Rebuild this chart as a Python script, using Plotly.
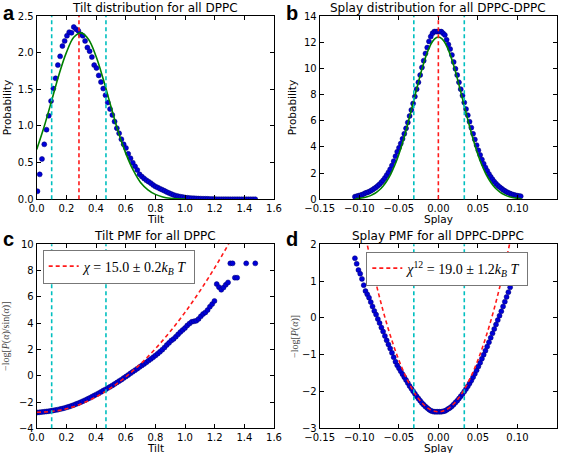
import numpy as np
import plotly.graph_objects as go

# ---------------- data ----------------
# tilt histogram bin centres (rad) and values
tilt_bins = np.round(0.005 + 0.0153 * np.arange(97), 4)
tilt_prob = [0.11, 0.34, 0.55, 0.75, 0.95, 1.14, 1.34, 1.51, 1.65, 1.83,
             1.95, 2.09, 2.16, 2.23, 2.28, 2.27, 2.35, 2.32, 2.30, 2.25,
             2.23, 2.16, 2.07, 2.02, 1.94, 1.83, 1.79, 1.69, 1.60, 1.51,
             1.42, 1.32, 1.23, 1.15, 1.06, 0.97, 0.90, 0.82, 0.75, 0.70,
             0.62, 0.56, 0.50, 0.45, 0.40, 0.34, 0.31, 0.285, 0.26, 0.24,
             0.22, 0.195, 0.175, 0.16, 0.145, 0.13, 0.115, 0.10, 0.085, 0.072,
             0.06, 0.05, 0.042, 0.035, 0.03, 0.025, 0.021, 0.018, 0.016, 0.014,
             0.012, 0.010, 0.009, 0.008, 0.007, 0.006, 0.005, 0.004, 0.003, 0.001,
             0.001, 0.001, 0.001, 0.001, 0.001, 0.0002, 0.0002, 0.0006, 0.0006, 0,
             0, 0, 0.0002, 0, 0, 0, 0.0002]
tilt_pmf = [-2.80, -2.78, -2.76, -2.74, -2.72, -2.70, -2.67, -2.64, -2.61, -2.58,
            -2.54, -2.50, -2.45, -2.40, -2.35, -2.29, -2.23, -2.16, -2.09, -2.02,
            -1.94, -1.86, -1.78, -1.69, -1.60, -1.51, -1.42, -1.33, -1.23, -1.13,
            -1.04, -0.94, -0.84, -0.74, -0.63, -0.52, -0.41, -0.30, -0.18, -0.06,
            0.06, 0.18, 0.30, 0.42, 0.54, 0.66, 0.78, 0.90, 1.02, 1.15,
            1.28, 1.41, 1.54, 1.68, 1.82, 1.98, 2.15, 2.34, 2.50, 2.68,
            2.80, 2.97, 3.15, 3.33, 3.48, 3.63, 3.82, 3.97, 4.10, 4.14,
            4.18, 4.32, 4.52, 4.70, 4.82, 5.00, 5.25, 5.45, 5.69, 6.97,
            6.74, 6.54, 6.71, 6.92, 7.10, 8.55, 8.55, 7.46, 7.46, None,
            None, None, 8.55, None, None, None, 8.55]

# gaussian fit to tilt distribution (sampled)
tilt_fit_x = [0.00, 0.05, 0.10, 0.15, 0.20, 0.25, 0.30, 0.35, 0.40, 0.45, 0.50,
              0.55, 0.60, 0.65, 0.70, 0.75, 0.80, 0.85, 0.90, 0.95, 1.00]
tilt_fit_prob = [0.68, 0.99, 1.34, 1.70, 2.00, 2.21, 2.27, 2.18, 1.95, 1.63, 1.27,
                 0.92, 0.63, 0.40, 0.23, 0.13, 0.067, 0.032, 0.014, 0.006, 0.002]
# harmonic fit to tilt PMF (sampled)
tilt_pmf_fit_x = [0.0, 0.1, 0.2, 0.3, 0.4, 0.5, 0.6, 0.7, 0.8, 0.9, 1.0, 1.1, 1.2, 1.3]
tilt_pmf_fit = [-2.78, -2.72, -2.51, -2.14, -1.61, -0.93, -0.09, 0.90, 2.05, 3.36,
                4.82, 6.44, 8.21, 10.14]
tilt_mean = [0.285]
tilt_sigma_bounds = [0.101, 0.467]

# splay histogram bin centres and -log P values
splay_bins = np.round(-0.1055 + 0.00223 * np.arange(95), 5)
splay_pmf = [1.62, 1.47, 1.30, 1.20, 1.06, 0.89, 0.73, 0.64, 0.55, 0.43,
             0.31, 0.19, 0.09, -0.03, -0.14, -0.26, -0.37, -0.49, -0.61, -0.72,
             -0.83, -0.95, -1.07, -1.19, -1.29, -1.37, -1.45, -1.53, -1.61, -1.69,
             -1.77, -1.85, -1.92, -1.99, -2.06, -2.13, -2.19, -2.25, -2.31, -2.36,
             -2.41, -2.45, -2.49, -2.52, -2.54, -2.55, -2.55, -2.55, -2.55, -2.55,
             -2.54, -2.53, -2.50, -2.47, -2.44, -2.40, -2.35, -2.30, -2.25, -2.19,
             -2.13, -2.07, -2.00, -1.93, -1.86, -1.78, -1.70, -1.61, -1.52, -1.42,
             -1.32, -1.22, -1.11, -1.00, -0.89, -0.78, -0.66, -0.54, -0.42, -0.30,
             -0.18, -0.06, 0.06, 0.18, 0.31, 0.44, 0.57, 0.70, 0.83, 0.96,
             1.08, 1.19, 1.29, 1.38, 1.45]
splay_prob = np.exp(-np.array(splay_pmf))  # P(alpha) = exp(-(-log P))

splay_fit_x = [-0.105, -0.100, -0.095, -0.090, -0.085, -0.080, -0.075, -0.070, -0.065,
               -0.060, -0.055, -0.050, -0.045, -0.040, -0.035, -0.030, -0.025, -0.020,
               -0.015, -0.010, -0.005, 0.000, 0.005, 0.010, 0.015, 0.020, 0.025, 0.030,
               0.035, 0.040, 0.045, 0.050, 0.055, 0.060, 0.065, 0.070, 0.075, 0.080,
               0.085, 0.090, 0.095, 0.100, 0.105]
splay_fit_prob = [0.043, 0.073, 0.12, 0.19, 0.30, 0.46, 0.69, 1.00, 1.42, 1.95, 2.62,
                  3.43, 4.38, 5.45, 6.61, 7.81, 8.99, 10.10, 11.05, 11.78, 12.24, 12.40,
                  12.24, 11.78, 11.05, 10.10, 8.99, 7.81, 6.61, 5.45, 4.38, 3.43, 2.62,
                  1.95, 1.42, 1.00, 0.69, 0.46, 0.30, 0.19, 0.12, 0.073, 0.043]
splay_pmf_fit_x = [-0.095, -0.090, -0.085, -0.080, -0.075, -0.070, -0.065, -0.060, -0.055,
                   -0.050, -0.045, -0.040, -0.035, -0.030, -0.025, -0.020, -0.015, -0.010,
                   -0.005, 0.000, 0.005, 0.010, 0.015, 0.020, 0.025, 0.030, 0.035, 0.040,
                   0.045, 0.050, 0.055, 0.060, 0.065, 0.070, 0.075, 0.080, 0.085, 0.090, 0.095]
splay_pmf_fit = [2.522, 2.002, 1.510, 1.047, 0.611, 0.204, -0.176, -0.527, -0.850,
                 -1.145, -1.412, -1.651, -1.862, -2.044, -2.199, -2.325, -2.424, -2.494,
                 -2.536, -2.550, -2.536, -2.494, -2.424, -2.325, -2.199, -2.044, -1.862,
                 -1.651, -1.412, -1.145, -0.850, -0.527, -0.176, 0.204, 0.611, 1.047,
                 1.510, 2.002, 2.522]
splay_mean = [0.0]
splay_sigma_bounds = [-0.031, 0.0328]

titles = ["Tilt distribution for all DPPC", "Splay distribution for all DPPC-DPPC",
          "Tilt PMF for all DPPC", "Splay PMF for all DPPC-DPPC"]
x_titles = ["Tilt", "Splay", "Tilt", "Splay"]
y_titles = ["Probability", "Probability",
            "−log[<i>P</i>(<i>α</i>)/sin(<i>α</i>)]", "−log[<i>P</i>(<i>α</i>)]"]
panel_letters = ["a", "b", "c", "d"]
legend_c = "<i>χ</i> = 15.0 ± 0.2<i>k</i><sub><i>B</i></sub> <i>T</i>"
legend_d = "<i>χ</i><sup>12</sup> = 19.0 ± 1.2<i>k</i><sub><i>B</i></sub> <i>T</i>"

# ---------------- styling ----------------
W, H = 567, 453
BLUE = "#0000d8"
GREEN = "#008000"
RED = "#ff1a1a"
CYAN = "#00bfbf"
TICKFONT = dict(family="DejaVu Sans", size=10, color="black")

def px_x(p):
    return p / W

def px_y(p):
    return 1 - p / H

dom_left = [px_x(36.7), px_x(274)]
dom_right = [px_x(319.7), px_x(557)]
dom_top = [px_y(199.3), px_y(16)]
dom_bot = [px_y(428.3), px_y(244.3)]

fig = go.Figure()

def dots(x, y, xa, ya):
    fig.add_trace(go.Scatter(x=x, y=y, mode="markers", xaxis=xa, yaxis=ya, showlegend=False,
                             marker=dict(size=5, color=BLUE, line=dict(width=0.5, color="#000070")),
                             cliponaxis=True))

def curve(x, y, xa, ya, color, dash="solid", name=None, legend=None):
    fig.add_trace(go.Scatter(x=x, y=y, mode="lines", xaxis=xa, yaxis=ya,
                             line=dict(color=color, width=1.6, dash=dash, shape="spline"),
                             showlegend=name is not None, name=name or "",
                             legend=legend or "legend"))

# panel a
dots(tilt_bins, tilt_prob, "x", "y")
curve(tilt_fit_x, tilt_fit_prob, "x", "y", GREEN)
# panel b
dots(splay_bins, splay_prob, "x2", "y2")
curve(splay_fit_x, splay_fit_prob, "x2", "y2", GREEN)
# panel c
dots(tilt_bins, tilt_pmf, "x3", "y3")
curve(tilt_pmf_fit_x, tilt_pmf_fit, "x3", "y3", RED, dash="4px,3px", name=legend_c, legend="legend")
# panel d
dots(splay_bins, splay_pmf, "x4", "y4")
curve(splay_pmf_fit_x, splay_pmf_fit, "x4", "y4", RED, dash="4px,3px", name=legend_d, legend="legend2")

shapes = []
def vline(xv, xref, yref, color):
    shapes.append(dict(type="line", xref=xref, yref=yref + " domain", x0=xv, x1=xv, y0=0, y1=1,
                       line=dict(color=color, width=1.6, dash="4px,3px"), layer="above"))

for v in tilt_sigma_bounds:
    vline(v, "x", "y", CYAN)
    vline(v, "x3", "y3", CYAN)
for v in tilt_mean:
    vline(v, "x", "y", RED)
for v in splay_sigma_bounds:
    vline(v, "x2", "y2", CYAN)
    vline(v, "x4", "y4", CYAN)
for v in splay_mean:
    vline(v, "x2", "y2", RED)

def axis(dom, rng, dtick, fmt, anchor):
    return dict(domain=dom, range=rng, dtick=dtick, tick0=rng[0], tickformat=fmt,
                showline=True, linecolor="black", linewidth=1, mirror="allticks",
                ticks="inside", ticklen=4, tickcolor="black", tickwidth=1,
                showgrid=False, zeroline=False, tickfont=TICKFONT, anchor=anchor,
                automargin=False)

layout = dict(
    width=W, height=H, margin=dict(l=0, r=0, t=0, b=0),
    paper_bgcolor="white", plot_bgcolor="white",
    xaxis=axis(dom_left, [0, 1.6], 0.2, ".1f", "y"),
    yaxis=axis(dom_top, [0, 2.5], 0.5, ".1f", "x"),
    xaxis2=axis(dom_right, [-0.15, 0.15], 0.05, ".2f", "y2"),
    yaxis2=axis(dom_top, [0, 14], 2, "d", "x2"),
    xaxis3=axis(dom_left, [0, 1.6], 0.2, ".1f", "y3"),
    yaxis3=axis(dom_bot, [-4, 10], 2, "d", "x3"),
    xaxis4=axis(dom_right, [-0.15, 0.15], 0.05, ".2f", "y4"),
    yaxis4=axis(dom_bot, [-3, 2], 1, "d", "x4"),
    shapes=shapes,
    legend=dict(x=px_x(42.7), y=px_y(249.5), xanchor="left", yanchor="top",
                bgcolor="white", bordercolor="#777777", borderwidth=1,
                font=dict(family="Liberation Serif", size=14, color="black"),
                itemwidth=30, tracegroupgap=0),
    legend2=dict(x=px_x(366.3), y=px_y(251.5), xanchor="left", yanchor="top",
                 bgcolor="white", bordercolor="#777777", borderwidth=1,
                 font=dict(family="Liberation Serif", size=14, color="black"),
                 itemwidth=30),
    showlegend=True,
)

annotations = []
lefts = [dom_left, dom_right, dom_left, dom_right]
vert = [dom_top, dom_top, dom_bot, dom_bot]
for i in range(4):
    cx = sum(lefts[i]) / 2
    # title
    annotations.append(dict(text=titles[i], x=cx, y=vert[i][1], xref="paper", yref="paper",
                            xanchor="center", yanchor="bottom", showarrow=False, yshift=-1,
                            font=dict(family="DejaVu Sans", size=12, color="black")))
    # x axis title
    annotations.append(dict(text=x_titles[i], x=cx, y=vert[i][0], xref="paper", yref="paper",
                            xanchor="center", yanchor="top", showarrow=False, yshift=-12,
                            font=dict(family="DejaVu Sans", size=10.5, color="black")))
    # y axis title
    serif = i >= 2
    annotations.append(dict(text=y_titles[i], x=lefts[i][0], y=sum(vert[i]) / 2,
                            xref="paper", yref="paper", xanchor="right", yanchor="middle",
                            textangle=-90, showarrow=False,
                            xshift=-(22 if i in (0, 2) else 20) + (4 if i == 3 else 0),
                            font=dict(family="Liberation Serif" if serif else "DejaVu Sans",
                                      size=10 if serif else 10.5,
                                      color="#444444" if serif else "black")))
letter_pos = [(px_x(1), px_y(0)), (px_x(284), px_y(0)), (px_x(1), px_y(226)), (px_x(284), px_y(226))]
for L, (lx, ly) in zip(panel_letters, letter_pos):
    annotations.append(dict(text="<b>" + L + "</b>", x=lx, y=ly, xref="paper", yref="paper",
                            xanchor="left", yanchor="top", showarrow=False,
                            font=dict(family="Liberation Sans", size=20, color="black")))
layout["annotations"] = annotations

fig.update_layout(**layout)
fig.write_html("out.html", config={"displayModeBar": False},
               post_script="document.body.style.margin='0px';document.body.style.overflow='hidden';")
